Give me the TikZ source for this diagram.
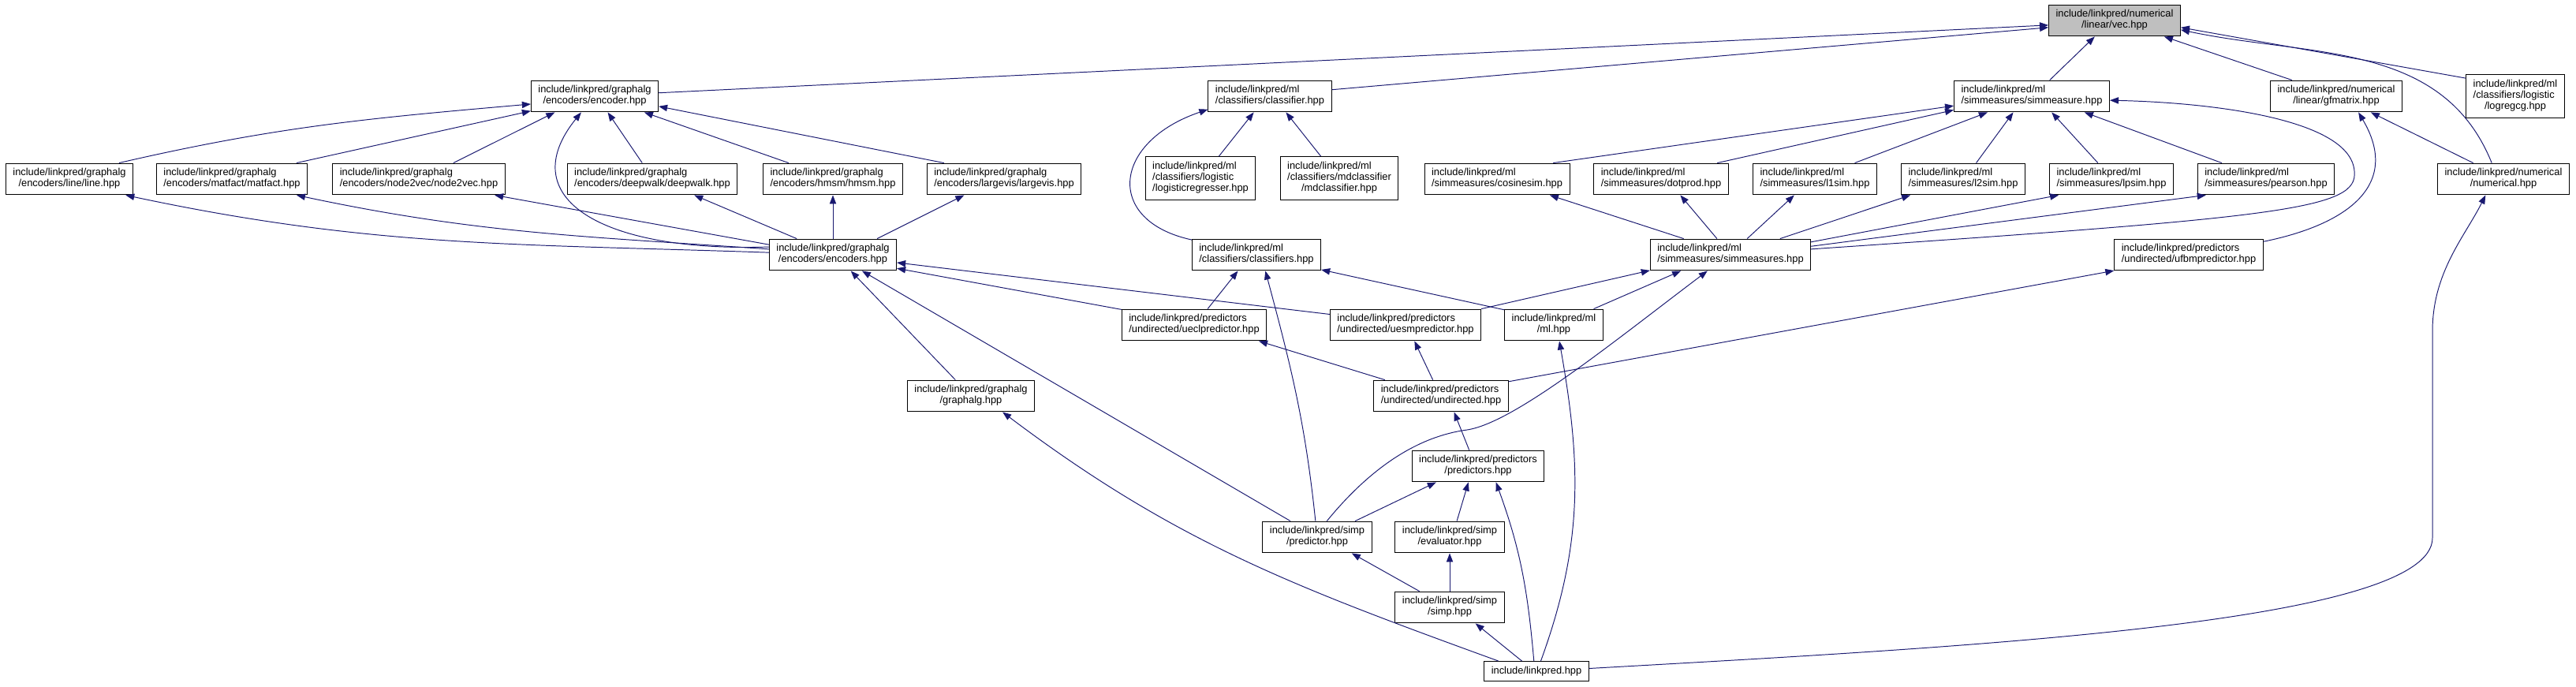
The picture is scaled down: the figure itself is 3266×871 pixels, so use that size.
\documentclass[tikz,border=0pt]{standalone}
\usepackage{fontspec}
\usetikzlibrary{arrows.meta}
\newfontfamily\dxfont{Liberation Sans}
\definecolor{edgeblue}{HTML}{191970}
\definecolor{vecgrey}{HTML}{BFBFBF}
\newcommand{\twoline}[2]{\begin{tabular}{@{}l@{}}#1\\\multicolumn{1}{@{}c@{}}{#2}\end{tabular}}
\newcommand{\threeline}[3]{\begin{tabular}{@{}l@{}}#1\\#2\\\multicolumn{1}{@{}c@{}}{#3}\end{tabular}}

\begin{document}
\begin{tikzpicture}[x=0.01in,y=0.01in,
  hfile/.style={draw=black, line width=0.7pt, fill=white, inner xsep=6.5pt, inner ysep=2pt,
    minimum height=28.8pt, font=\dxfont\fontsize{9.3}{10.1}\selectfont},
  tall/.style={minimum height=39.6pt},
  flat/.style={minimum height=18pt},
  incl/.style={draw=edgeblue, line width=0.7pt, -{Triangle[length=8pt,width=6pt]}}]
\useasboundingbox (0,0) rectangle (3266,-871);
\node[hfile, fill=vecgrey] (vec) at (2681,-26) {\twoline{include/linkpred/numerical}{/linear/vec.hpp}};
\node[hfile] (encoder) at (754,-122) {\twoline{include/linkpred/graphalg}{/encoders/encoder.hpp}};
\node[hfile] (classifier) at (1610,-122) {\twoline{include/linkpred/ml}{/classifiers/classifier.hpp}};
\node[hfile] (simmeasure) at (2576,-122) {\twoline{include/linkpred/ml}{/simmeasures/simmeasure.hpp}};
\node[hfile] (gfmatrix) at (2962,-122) {\twoline{include/linkpred/numerical}{/linear/gfmatrix.hpp}};
\node[hfile, tall] (logregcg) at (3189,-122) {\threeline{include/linkpred/ml}{/classifiers/logistic}{/logregcg.hpp}};
\node[hfile] (line) at (88,-227) {\twoline{include/linkpred/graphalg}{/encoders/line/line.hpp}};
\node[hfile] (matfact) at (294,-227) {\twoline{include/linkpred/graphalg}{/encoders/matfact/matfact.hpp}};
\node[hfile] (nodetovec) at (531,-227) {\twoline{include/linkpred/graphalg}{/encoders/node2vec/node2vec.hpp}};
\node[hfile] (deepwalk) at (827,-227) {\twoline{include/linkpred/graphalg}{/encoders/deepwalk/deepwalk.hpp}};
\node[hfile] (hmsm) at (1056,-227) {\twoline{include/linkpred/graphalg}{/encoders/hmsm/hmsm.hpp}};
\node[hfile] (largevis) at (1273,-227) {\twoline{include/linkpred/graphalg}{/encoders/largevis/largevis.hpp}};
\node[hfile, tall] (logreg) at (1522,-226) {\threeline{include/linkpred/ml}{/classifiers/logistic}{/logisticregresser.hpp}};
\node[hfile, tall] (mdclass) at (1698,-226) {\threeline{include/linkpred/ml}{/classifiers/mdclassifier}{/mdclassifier.hpp}};
\node[hfile] (cosinesim) at (1898,-227) {\twoline{include/linkpred/ml}{/simmeasures/cosinesim.hpp}};
\node[hfile] (dotprod) at (2106,-227) {\twoline{include/linkpred/ml}{/simmeasures/dotprod.hpp}};
\node[hfile] (lonesim) at (2301,-227) {\twoline{include/linkpred/ml}{/simmeasures/l1sim.hpp}};
\node[hfile] (ltwosim) at (2489,-227) {\twoline{include/linkpred/ml}{/simmeasures/l2sim.hpp}};
\node[hfile] (lpsim) at (2677,-227) {\twoline{include/linkpred/ml}{/simmeasures/lpsim.hpp}};
\node[hfile] (pearson) at (2873,-227) {\twoline{include/linkpred/ml}{/simmeasures/pearson.hpp}};
\node[hfile] (numerical) at (3174,-227) {\twoline{include/linkpred/numerical}{/numerical.hpp}};
\node[hfile] (encoders) at (1056,-323) {\twoline{include/linkpred/graphalg}{/encoders/encoders.hpp}};
\node[hfile] (classifiers) at (1593,-323) {\twoline{include/linkpred/ml}{/classifiers/classifiers.hpp}};
\node[hfile] (simmeasures) at (2194,-323) {\twoline{include/linkpred/ml}{/simmeasures/simmeasures.hpp}};
\node[hfile] (ufbm) at (2775,-323) {\twoline{include/linkpred/predictors}{/undirected/ufbmpredictor.hpp}};
\node[hfile] (uecl) at (1514,-412) {\twoline{include/linkpred/predictors}{/undirected/ueclpredictor.hpp}};
\node[hfile] (uesm) at (1782,-412) {\twoline{include/linkpred/predictors}{/undirected/uesmpredictor.hpp}};
\node[hfile] (ml) at (1970,-412) {\twoline{include/linkpred/ml}{/ml.hpp}};
\node[hfile] (graphalg) at (1231,-502) {\twoline{include/linkpred/graphalg}{/graphalg.hpp}};
\node[hfile] (undirected) at (1827,-502) {\twoline{include/linkpred/predictors}{/undirected/undirected.hpp}};
\node[hfile] (predictors) at (1874,-591) {\twoline{include/linkpred/predictors}{/predictors.hpp}};
\node[hfile] (predictor) at (1670,-681) {\twoline{include/linkpred/simp}{/predictor.hpp}};
\node[hfile] (evaluator) at (1838,-681) {\twoline{include/linkpred/simp}{/evaluator.hpp}};
\node[hfile] (simp) at (1838,-770) {\twoline{include/linkpred/simp}{/simp.hpp}};
\node[hfile, flat] (linkpred) at (1948,-851) {include/linkpred.hpp};
\draw[incl] (encoder.3) -- (vec.184);
\draw[incl] (classifier.6) -- (vec.186);
\draw[incl] (simmeasure.42) -- (vec.219);
\draw[incl] (gfmatrix.160) -- (vec.342);
\draw[incl] (logregcg.160) -- (vec.354);
\draw[incl] (numerical.126) to[out=112,in=-12] (vec.352);
\draw[incl] (line.18) to[out=13,in=185] (encoder.187);
\draw[incl] (matfact.14) -- (encoder.193);
\draw[incl] (nodetovec.25) -- (encoder.202);
\draw[incl] (encoders.173) .. controls (760,-320) and (650,-250) .. (encoder.230);
\draw[incl] (deepwalk.122) -- (encoder.309);
\draw[incl] (hmsm.160) -- (encoder.342);
\draw[incl] (largevis.165) -- (encoder.351);
\draw[incl] (logreg.50) -- (classifier.225);
\draw[incl] (mdclass.130) -- (classifier.315);
\draw[incl] (classifiers.167) .. controls (1400,-280) and (1410,-180) .. (classifier.192);
\draw[incl] (cosinesim.16) -- (simmeasure.187);
\draw[incl] (dotprod.16) -- (simmeasure.190);
\draw[incl] (lonesim.22) -- (simmeasure.200);
\draw[incl] (ltwosim.51) -- (simmeasure.221);
\draw[incl] (lpsim.130) -- (simmeasure.321);
\draw[incl] (pearson.160) -- (simmeasure.343);
\draw[incl] (simmeasures.4) .. controls (2900,-275) and (2990,-265) .. (2985,-217)
  .. controls (2980,-150) and (2800,-130) .. (simmeasure.357);
\draw[incl] (ufbm.10) .. controls (2975,-285) and (3045,-235) .. (gfmatrix.324);
\draw[incl] (numerical.152) -- (gfmatrix.335);
\draw[incl] (linkpred.3) .. controls (2500,-820) and (3084,-790) .. (3084,-682) -- (3084,-420)
  .. controls (3084,-345) and (3125,-300) .. (numerical.222);
\draw[incl] (encoders.178) to[out=178,in=-12] (line.344);
\draw[incl] (encoders.175) to[out=176,in=-12] (matfact.346);
\draw[incl] (encoders.171) -- (nodetovec.348);
\draw[incl] (encoders.156) -- (deepwalk.339);
\draw[incl] (encoders.north) -- (hmsm.south);
\draw[incl] (encoders.20) -- (largevis.202);
\draw[incl] (uecl.168) -- (encoders.348);
\draw[incl] (uesm.172) -- (encoders.353);
\draw[incl] (graphalg.134) -- (encoders.318);
\draw[incl] (predictor.149) -- (encoders.331);
\draw[incl] (uecl.50) -- (classifiers.221);
\draw[incl] (predictor.96) to[out=96,in=-75] (classifiers.299);
\draw[incl] (ml.163) -- (classifiers.347);
\draw[incl] (uesm.12) -- (simmeasures.191);
\draw[incl] (ml.22) -- (simmeasures.198);
\draw[incl] (predictor.59) .. controls (1740,-590) and (1800,-553) .. (1860,-545)
  .. controls (1920,-536) and (2046,-433) .. (simmeasures.215);
\draw[incl] (simmeasures.161) -- (cosinesim.343);
\draw[incl] (simmeasures.130) -- (dotprod.320);
\draw[incl] (simmeasures.44) -- (lonesim.218);
\draw[incl] (simmeasures.18) -- (ltwosim.197);
\draw[incl] (simmeasures.9) -- (lpsim.197);
\draw[incl] (simmeasures.6) -- (pearson.195);
\draw[incl] (undirected.164) -- (uecl.346);
\draw[incl] (undirected.117) -- (uesm.299);
\draw[incl] (undirected.12) -- (ufbm.192);
\draw[incl] (predictors.119) -- (undirected.309);
\draw[incl] (linkpred.67) to[out=70,in=-80] (ml.289);
\draw[incl] (linkpred.104) to[out=95,in=-70] (predictors.318);
\draw[incl] (linkpred.165) to[out=160,in=-37] (graphalg.333);
\draw[incl] (linkpred.145) -- (simp.328);
\draw[incl] (simp.152) -- (predictor.335);
\draw[incl] (simp.north) -- (evaluator.south);
\draw[incl] (predictor.23) -- (predictors.201);
\draw[incl] (evaluator.66) -- (predictors.239);
\end{tikzpicture}
\end{document}
